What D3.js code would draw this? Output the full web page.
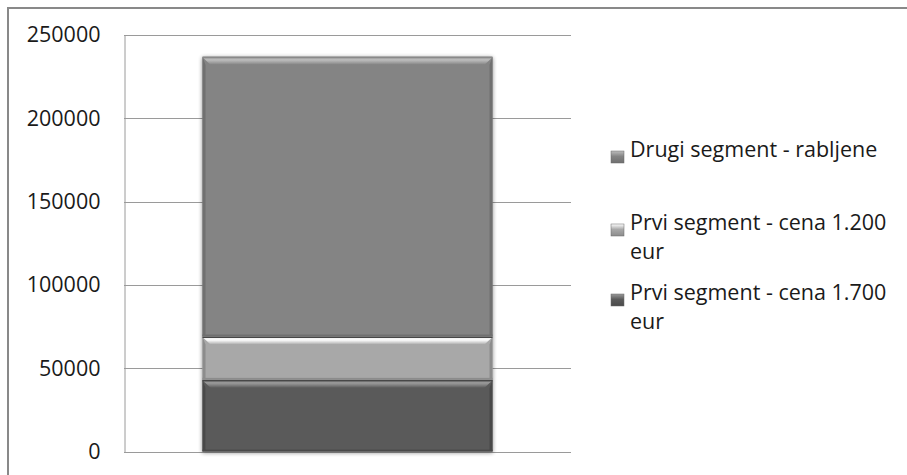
<!DOCTYPE html>
<html>
<head>
<meta charset="utf-8">
<script src="https://cdn.jsdelivr.net/npm/d3@7/dist/d3.min.js"></script>
<style>
  html, body { margin: 0; padding: 0; background: #fff; }
  svg { display: block; }
  text { font-family: "Open Sans", sans-serif; fill: #1a1a1a; }
</style>
</head>
<body>
<svg id="chart" width="907" height="475"></svg>
<script>
// Stacked column: market volume by segment
const categories = ["Tržište"];
const seriesNames = [
  "Prvi segment - cena 1.700 eur",
  "Prvi segment - cena 1.200 eur",
  "Drugi segment - rabljene"
];
const seriesValues = [
  [43000],
  [26000],
  [168000]
];
const yTicks = [0, 50000, 100000, 150000, 200000, 250000];

// Fill / bevel tones per series (bottom to top)
const baseColors  = ["#5a5a5a", "#a8a8a8", "#848484"];
const lightColors = ["#9a9a9a", "#ffffff", "#bdbdbd"];
const sideColors  = ["#4a4a4a", "#8c8c8c", "#6f6f6f"];

const W = 907, H = 475;
const plot = { left: 124, right: 571, top: 35, bottom: 451.5 };
const fontSize = 21.5;

const svg = d3.select("#chart");
const defs = svg.append("defs");

// Soft shadow behind the column
const shadow = defs.append("filter").attr("id", "shadow")
  .attr("x", "-10%").attr("y", "-10%").attr("width", "120%").attr("height", "120%");
shadow.append("feGaussianBlur").attr("in", "SourceAlpha").attr("stdDeviation", 2).attr("result", "blur");
shadow.append("feOffset").attr("in", "blur").attr("dx", 0).attr("dy", 1).attr("result", "off");
shadow.append("feComponentTransfer").attr("in", "off").attr("result", "sh")
  .append("feFuncA").attr("type", "linear").attr("slope", 0.45);
const merge = shadow.append("feMerge");
merge.append("feMergeNode").attr("in", "sh");
merge.append("feMergeNode").attr("in", "SourceGraphic");

// Vertical gradients for the bevelled top edges and legend keys
baseColors.forEach((c, i) => {
  const g = defs.append("linearGradient").attr("id", "bevel" + i)
    .attr("x1", 0).attr("y1", 0).attr("x2", 0).attr("y2", 1);
  g.append("stop").attr("offset", "0%").attr("stop-color", lightColors[i]);
  g.append("stop").attr("offset", "35%").attr("stop-color", lightColors[i]).attr("stop-opacity", 0.9);
  g.append("stop").attr("offset", "100%").attr("stop-color", c);
  const k = defs.append("linearGradient").attr("id", "key" + i)
    .attr("x1", 0).attr("y1", 0).attr("x2", 0).attr("y2", 1);
  k.append("stop").attr("offset", "0%").attr("stop-color", lightColors[i]);
  k.append("stop").attr("offset", "45%").attr("stop-color", c);
  k.append("stop").attr("offset", "100%").attr("stop-color", sideColors[i]);
});

// Outer chart border (runs off the right and bottom edges)
svg.append("rect")
  .attr("x", 8).attr("y", 8).attr("width", W + 20).attr("height", H + 20)
  .attr("fill", "none").attr("stroke", "#898989").attr("stroke-width", 2);

const x = d3.scaleBand().domain(categories)
  .range([plot.left, plot.right]).paddingInner(0.213).paddingOuter(0.213);
const y = d3.scaleLinear().domain([0, 250000]).range([plot.bottom, plot.top]);

// Gridlines
svg.append("g").selectAll("line").data(yTicks).join("line")
  .attr("x1", plot.left).attr("x2", plot.right)
  .attr("y1", d => Math.round(y(d)) + 0.5).attr("y2", d => Math.round(y(d)) + 0.5)
  .attr("stroke", "#9a9a9a").attr("stroke-width", 1);

// Y axis
const yAxis = d3.axisLeft(y).tickValues(yTicks).tickSize(0).tickPadding(24)
  .tickFormat(d3.format("d"));
const gy = svg.append("g").attr("transform", `translate(${plot.left + 0.5},0)`).call(yAxis);
gy.select(".domain").attr("stroke", "#9a9a9a");
gy.selectAll("text").style("font-family", '"Open Sans", sans-serif')
  .style("font-size", fontSize + "px").attr("fill", "#1a1a1a");

// Stacked data
const stackInput = categories.map((c, ci) => {
  const row = { cat: c };
  seriesNames.forEach((s, si) => row[s] = seriesValues[si][ci]);
  return row;
});
const stacked = d3.stack().keys(seriesNames)(stackInput);

const barG = svg.append("g").attr("filter", "url(#shadow)");
const bev = 8, side = 3;

stacked.forEach((layer, si) => {
  layer.forEach(d => {
    const x0 = x(d.data.cat), x1 = x0 + x.bandwidth();
    const yT = y(d[1]), yB = y(d[0]);
    const g = barG.append("g");
    g.append("rect").attr("x", x0).attr("y", yT).attr("width", x1 - x0).attr("height", yB - yT)
      .attr("fill", baseColors[si]);
    // side shading
    g.append("polygon").attr("points", [[x0, yT], [x0 + side, yT + bev], [x0 + side, yB - 1], [x0, yB]].join(" "))
      .attr("fill", sideColors[si]);
    g.append("polygon").attr("points", [[x1, yT], [x1 - side, yT + bev], [x1 - side, yB - 1], [x1, yB]].join(" "))
      .attr("fill", sideColors[si]);
    // bottom edge
    g.append("rect").attr("x", x0).attr("y", yB - 2).attr("width", x1 - x0).attr("height", 2)
      .attr("fill", sideColors[si]);
    // bevelled top
    g.append("polygon").attr("points", [[x0 + 1, yT + 1.5], [x1 - 1, yT + 1.5], [x1 - bev, yT + bev], [x0 + bev, yT + bev]].join(" "))
      .attr("fill", `url(#bevel${si})`);
    // separator line on top of each segment
    g.append("rect").attr("x", x0).attr("y", yT).attr("width", x1 - x0).attr("height", 1.5)
      .attr("fill", si === 2 ? "#8a8a8a" : "#474747");
  });
});

// Legend (listed top series first), wrapped to the available width
const legendX = 611, textX = 630, maxTextWidth = 268, lineH = 29;
const legendRows = [
  { si: 2, y: 157 },
  { si: 1, y: 230 },
  { si: 0, y: 300 }
];
const lg = svg.append("g");
legendRows.forEach(r => {
  lg.append("rect").attr("x", legendX).attr("y", r.y - 6).attr("width", 13).attr("height", 12)
    .attr("fill", `url(#key${r.si})`).attr("stroke", "#6a6a6a").attr("stroke-width", 0.5);
  const t = lg.append("text").attr("x", textX).attr("y", r.y)
    .attr("dy", "0.35em").style("font-size", fontSize + "px");
  const words = seriesNames[r.si].split(" ");
  let line = [], ts = t.append("tspan").attr("x", textX).attr("dy", 0);
  words.forEach(w => {
    line.push(w);
    ts.text(line.join(" "));
    if (ts.node().getComputedTextLength() > maxTextWidth && line.length > 1) {
      line.pop();
      ts.text(line.join(" "));
      line = [w];
      ts = t.append("tspan").attr("x", textX).attr("dy", lineH).text(w);
    }
  });
});
</script>
</body>
</html>
